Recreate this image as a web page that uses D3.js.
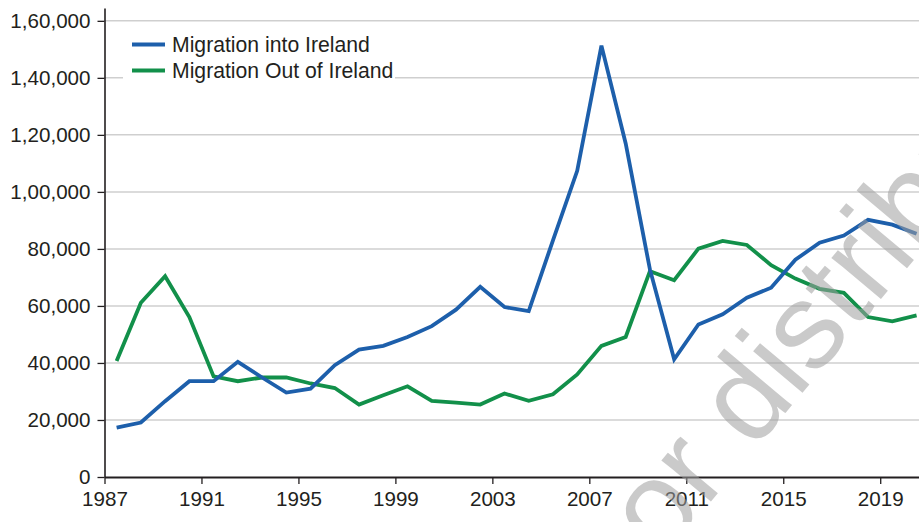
<!DOCTYPE html>
<html>
<head>
<meta charset="utf-8">
<script src="https://cdn.jsdelivr.net/npm/d3@7"></script>
<style>
  body { margin: 0; background: #fff; }
  svg { display: block; font-family: "Liberation Sans", Arial, Helvetica, sans-serif; }
  .axis text { font-size: 20.6px; fill: #231f20; }
  .axis path, .axis line { stroke: #231f20; }
  .grid line { stroke: #cfcfcf; stroke-width: 1.5; }
  .line { fill: none; stroke-width: 3.8; stroke-linejoin: miter; }
  .legend text { font-size: 21.2px; fill: #231f20; }
</style>
</head>
<body>
<svg id="chart" width="919" height="522"></svg>
<script>
// migration into / out of Ireland, thousands -> persons

var years = d3.range(1987, 2021);

var inflow = [17.3, 19.1, 26.6, 33.6, 33.6, 40.4, 34.9, 29.6, 31.0, 39.2,
              44.7, 46.0, 49.1, 52.9, 58.7, 66.7, 59.6, 58.2, 83.0, 107.4,
              151.3, 117.0, 72.8, 41.3, 53.5, 57.1, 62.9, 66.4, 76.2, 82.2,
              84.7, 90.2, 88.5, 85.3];

var outflow = [40.7, 61.1, 70.4, 56.1, 35.3, 33.6, 34.9, 34.9, 32.8, 31.2,
               25.4, 28.7, 31.8, 26.7, 26.1, 25.4, 29.3, 26.7, 29.0, 36.0,
               46.0, 49.1, 72.2, 69.0, 80.1, 82.8, 81.4, 74.3, 69.6, 66.0,
               64.6, 56.1, 54.6, 56.7];

var seriesNames = ["Migration into Ireland", "Migration Out of Ireland"];
var seriesColors = ["#1d5fab", "#12904a"];

var xTicks = [1987, 1991, 1995, 1999, 2003, 2007, 2011, 2015, 2019];
var yTicks = [0, 20000, 40000, 60000, 80000, 100000, 120000, 140000, 160000];

var svg = d3.select("#chart"),
    margin = {top: 8, right: 0, bottom: 45, left: 104.5},
    width = +svg.attr("width") - margin.left - margin.right,
    height = +svg.attr("height") - margin.top - margin.bottom;

// indian digit grouping: 1,60,000
var fmt = d3.formatLocale({decimal: ".", thousands: ",", grouping: [3, 2], currency: ["", ""]}).format(",");

var x = d3.scaleLinear().domain([1987, 2020.6]).range([0, width]),
    y = d3.scaleLinear().domain([0, 164500]).range([height, 0]);

var g = svg.append("g")
    .attr("transform", "translate(" + margin.left + "," + margin.top + ")");

// gridlines
g.append("g")
    .attr("class", "grid")
    .selectAll("line")
    .data(yTicks.slice(1))
    .enter().append("line")
    .attr("x1", 0)
    .attr("x2", width)
    .attr("y1", function(d) { return y(d); })
    .attr("y2", function(d) { return y(d); });

var series = seriesNames.map(function(name, i) {
    var vals = i === 0 ? inflow : outflow;
    return {
        name: name,
        color: seriesColors[i],
        values: years.map(function(yr, j) { return {year: yr + 0.5, value: vals[j] * 1000}; })
    };
});

var line = d3.line()
    .x(function(d) { return x(d.year); })
    .y(function(d) { return y(d.value); });

g.selectAll(".line")
    .data(series.slice().reverse())
    .enter().append("path")
    .attr("class", "line")
    .attr("d", function(d) { return line(d.values); })
    .style("stroke", function(d) { return d.color; });

// axes
var yAxis = g.append("g")
    .attr("class", "axis axis--y")
    .call(d3.axisLeft(y).tickValues(yTicks).tickFormat(fmt).tickSize(7).tickPadding(7).tickSizeOuter(0));
yAxis.select(".domain").attr("stroke-width", 1.6);
yAxis.selectAll(".tick line").attr("stroke-width", 1.3);

var xAxis = g.append("g")
    .attr("class", "axis axis--x")
    .attr("transform", "translate(0," + height + ")")
    .call(d3.axisBottom(x).tickValues(xTicks).tickFormat(d3.format("d")).tickSize(7).tickPadding(7).tickSizeOuter(0));
xAxis.select(".domain").attr("stroke-width", 2);
xAxis.selectAll(".tick line").attr("stroke-width", 1.3);

// legend
var legend = svg.append("g").attr("class", "legend");
legend.append("rect")
    .attr("x", 123).attr("y", 28)
    .attr("width", 272).attr("height", 56)
    .attr("fill", "#fff");

var items = legend.selectAll(".item")
    .data(series)
    .enter().append("g")
    .attr("class", "item")
    .attr("transform", function(d, i) { return "translate(132," + (44.5 + i * 26) + ")"; });

items.append("line")
    .attr("x1", 0).attr("x2", 33)
    .attr("stroke-width", 3.8)
    .attr("stroke", function(d) { return d.color; });

items.append("text")
    .attr("x", 40)
    .attr("dy", "0.35em")
    .text(function(d) { return d.name; });

// watermark
svg.append("text")
    .attr("transform", "translate(662,560) rotate(-50)")
    .attr("font-size", 122)
    .attr("fill", "#a0a0a0")
    .attr("opacity", 0.55)
    .text("or distribution");
</script>
</body>
</html>
